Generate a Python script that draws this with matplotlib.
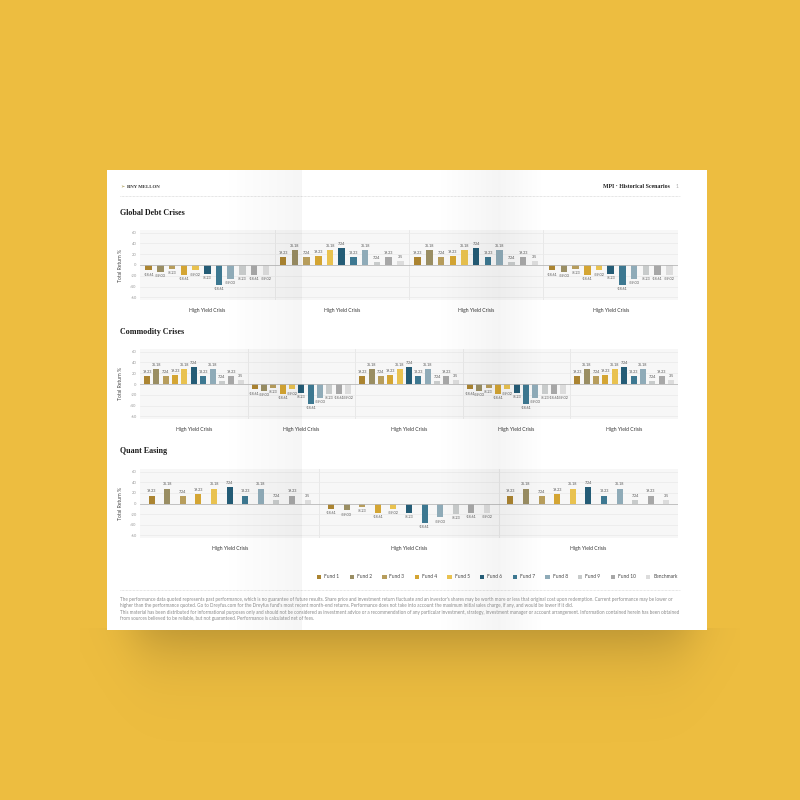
import numpy as np
import matplotlib
matplotlib.use("Agg")
import matplotlib.pyplot as plt
from matplotlib.patches import Rectangle
from matplotlib.lines import Line2D

W, H = 800, 800

# series
funds = ["Fund 1", "Fund 2", "Fund 3", "Fund 4", "Fund 5", "Fund 6",
         "Fund 7", "Fund 8", "Fund 9", "Fund 10", "Benchmark"]
colors = ["#AB8431", "#9A8E63", "#B79D5C", "#D4A533", "#E9C24F", "#245C76",
          "#3D7891", "#8FABB8", "#C8CBCB", "#A7A7A7", "#DCDCDC"]

# bar heights for the up / down scenario groups
pos_vals = [15, 28, 14, 17, 28, 31, 15, 28, 6, 15, 7]
neg_vals = [-10, -13, -7, -18, -10, -17, -37, -26, -19, -18, -18]
# printed labels (the mockup labels don't match the heights)
pos_labels = ["19.23", "35.18", "7.24", "19.23", "35.18", "7.24",
              "18.23", "35.18", "7.24", "19.23", "3.5"]
neg_labels = ["-18.61", "-39.03", "-8.23", "-18.61", "-39.02", "-8.23",
              "-18.61", "-39.03", "-8.23", "-18.61", "-39.02"]

group_name = "High Yield Crisis"
debt_groups = ["neg", "pos", "pos", "neg"]
commodity_groups = ["pos", "neg", "pos", "neg", "pos"]
qe_groups = ["pos", "neg", "pos"]
yticks = [-60, -40, -20, 0, 20, 40, 60]

disclaimer_1 = ("The performance data quoted represents past performance, which is no guarantee of future results. "
                "Share price and investment return fluctuate and an investor's shares may be worth more or less that "
                "original cost upon redemption. Current performance may be lower or\nhigher than the performance quoted. "
                "Go to Dreyfus.com for the Dreyfus fund's most recent month-end returns. Performance does not take into "
                "account the maximum initial sales charge, if any, and would be lower if it did.")
disclaimer_2 = ("This material has been distributed for informational purposes only and should not be considered as "
                "investment advice or a recommendation of any particular investment, strategy, investment manager or "
                "account arrangement. Information contained herein has been obtained\nfrom sources believed to be "
                "reliable, but not guaranteed. Performance is calculated net of fees.")

plt.rcParams['font.family'] = ['Lato', 'DejaVu Sans']

fig = plt.figure(figsize=(8, 8), dpi=100)
fig.patch.set_facecolor("#EDBD40")


def fy(y):
    return 1 - y / H


def px_axes(x0, y0, x1, y1, **kw):
    return fig.add_axes([x0 / W, 1 - y1 / H, (x1 - x0) / W, (y1 - y0) / H], **kw)


# soft shadow under the sheet
sh = px_axes(80, 600, 740, 760, zorder=0.2)
sh.set_axis_off()
yy = np.linspace(600, 760, 200)[:, None]
xx = np.linspace(80, 740, 400)[None, :]
fall_y = np.where(yy < 628, 0.0, np.exp(-((yy - 628) / 36.0) ** 1.3))
fall_x = 1 / (1 + np.exp(-(xx - 135) / 14)) * 1 / (1 + np.exp((xx - 690) / 14))
shadow = np.zeros((200, 400, 4))
shadow[..., 0] = 0.48
shadow[..., 1] = 0.38
shadow[..., 2] = 0.14
shadow[..., 3] = 0.36 * fall_y * fall_x
sh.imshow(shadow, extent=(80, 740, 760, 600), aspect="auto")
sh.set_xlim(80, 740)
sh.set_ylim(760, 600)

# the sheet
fig.add_artist(Rectangle((107 / W, fy(630)), 600 / W, 460 / H, transform=fig.transFigure,
                         facecolor="white", edgecolor="none", zorder=0.5))

# header
fig.text(120 / W, fy(187), "➢", fontsize=3.6, color="#9C8B3A", va="center", family="DejaVu Sans")
fig.text(127 / W, fy(187), "BNY MELLON", fontsize=3.5, color="#333333", va="center",
         family="Liberation Serif", weight="bold")
fig.text(670 / W, fy(187), "MPI · Historical Scenarios", fontsize=4.2, color="#222222", va="center",
         ha="right", family="Liberation Serif", weight="bold")
fig.text(678 / W, fy(187), "1", fontsize=3.6, color="#AAAAAA", va="center", ha="right")
fig.add_artist(Line2D([120 / W, 680 / W], [fy(196), fy(196)], transform=fig.transFigure,
                      color="#CCCCCC", lw=0.5, linestyle=(0, (1, 1))))


def draw_chart(top, bottom, pattern, bar_px, title, title_y):
    fig.text(120 / W, fy(title_y), title, fontsize=5.8, color="#1A1A1A", va="center",
             family="Liberation Serif", weight="bold")
    ax = px_axes(140, top, 678, bottom, zorder=1)
    n = len(pattern)
    ax.set_xlim(0, n)
    ax.set_ylim(-65, 65)
    ax.set_facecolor("#F7F7F7")
    group_px = 538 / n
    width = bar_px / group_px
    offsets = np.linspace(-0.435, 0.435, len(funds))
    for g, kind in enumerate(pattern):
        vals = pos_vals if kind == "pos" else neg_vals
        labs = pos_labels if kind == "pos" else neg_labels
        for i in range(len(funds)):
            x = g + 0.5 + offsets[i]
            ax.bar(x, vals[i], width, color=colors[i], zorder=3)
            if kind == "pos":
                ax.annotate(labs[i], (x, vals[i]), xytext=(0, 1.6), textcoords="offset points",
                            ha="center", va="bottom", fontsize=2.7, color="#555555")
            else:
                ax.annotate(labs[i], (x, vals[i]), xytext=(0, -1.6), textcoords="offset points",
                            ha="center", va="top", fontsize=2.7, color="#555555")
    for g in range(1, n):
        ax.axvline(g, color="#E6E6E6", lw=0.6, zorder=1)
    for t in yticks:
        if t != 0:
            ax.axhline(t, color="#EAEAEA", lw=0.5, zorder=1)
    ax.axhline(0, color="#B8B8B8", lw=0.6, zorder=4)
    for s in ax.spines.values():
        s.set_visible(False)
    ax.set_yticks(yticks)
    ax.set_yticklabels([str(t) for t in yticks])
    ax.set_xticks([g + 0.5 for g in range(n)])
    ax.set_xticklabels([group_name] * n)
    ax.tick_params(axis="y", length=0, pad=2.5, labelsize=3.0, labelcolor="#9A9A9A")
    ax.tick_params(axis="x", length=0, pad=5.5, labelsize=3.6, labelcolor="#333333")
    ax.set_ylabel("Total Return %", fontsize=3.6, color="#444444")
    ax.yaxis.set_label_coords(-0.032, 0.5)
    return ax


draw_chart(230, 300, debt_groups, 6.5, "Global Debt Crises", 213)
draw_chart(349, 419, commodity_groups, 6.0, "Commodity Crises", 332)
draw_chart(469, 538, qe_groups, 6.0, "Quant Easing", 451)

# legend
handles = [Rectangle((0, 0), 1, 1, facecolor=c, edgecolor="none") for c in colors]
fig.legend(handles, funds, loc="center right", bbox_to_anchor=(680 / W, fy(577)), ncol=len(funds),
           frameon=False, fontsize=3.5, handlelength=0.9, handleheight=0.9, handletextpad=0.6,
           columnspacing=2.1, labelcolor="#444444", borderpad=0)

# footer
fig.add_artist(Line2D([120 / W, 680 / W], [fy(590), fy(590)], transform=fig.transFigure,
                      color="#CCCCCC", lw=0.5, linestyle=(0, (1, 1))))
fig.text(120 / W, fy(597), disclaimer_1, fontsize=3.3, color="#8A8A8A", va="top", linespacing=1.15)
fig.text(120 / W, fy(610), disclaimer_2, fontsize=3.3, color="#8A8A8A", va="top", linespacing=1.15)

# fold shading across the sheet
fold = px_axes(107, 170, 707, 630, zorder=3)
fold.set_axis_off()
xs = np.arange(107, 707)
shade = np.zeros_like(xs, dtype=float)
shade += np.where((xs >= 220) & (xs < 302), (xs - 220) / 82 * 0.04, 0)
shade += np.where((xs >= 435) & (xs < 500), (xs - 435) / 65 * 0.045, 0)
shade += np.where((xs >= 500) & (xs < 545), 0.04 * (545 - xs) / 45, 0)
over = np.zeros((1, len(xs), 4))
over[..., 3] = shade
fold.imshow(over, extent=(107, 707, 630, 170), aspect="auto")
fold.set_xlim(107, 707)
fold.set_ylim(630, 170)

fig.savefig("out.png", dpi=100, facecolor=fig.get_facecolor())
